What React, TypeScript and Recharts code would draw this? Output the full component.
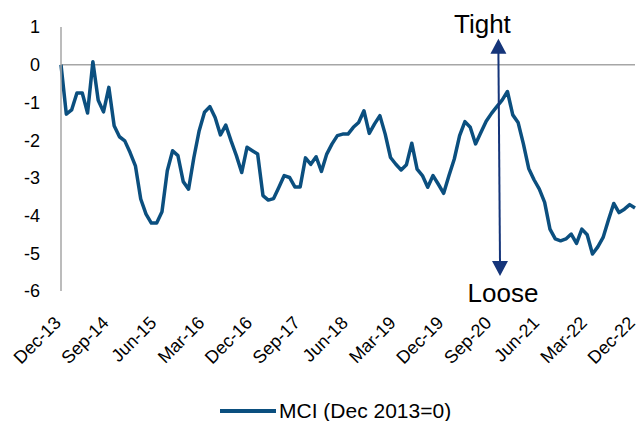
import { LineChart, Line, XAxis, YAxis, ReferenceLine } from "recharts";

// MCI index, monthly from Dec-13 to Dec-22 (Dec 2013 = 0)
const mciValues = [
  0, -1.31, -1.2, -0.75, -0.75, -1.28, 0.08, -0.94, -1.25, -0.6,
  -1.62, -1.91, -2.02, -2.33, -2.68, -3.56, -3.96, -4.2, -4.2, -3.9,
  -2.81, -2.28, -2.41, -3.1, -3.3, -2.46, -1.75, -1.26, -1.11, -1.4,
  -1.86, -1.6, -2.02, -2.41, -2.86, -2.19, -2.28, -2.37, -3.47, -3.59,
  -3.55, -3.25, -2.94, -2.99, -3.24, -3.24, -2.47, -2.64, -2.44, -2.83,
  -2.37, -2.1, -1.88, -1.84, -1.84, -1.66, -1.53, -1.22, -1.82, -1.57,
  -1.35, -1.84, -2.46, -2.64, -2.79, -2.65, -2.08, -2.77, -2.94, -3.25,
  -2.94, -3.17, -3.41, -2.94, -2.5, -1.88, -1.51, -1.66, -2.1, -1.8,
  -1.5, -1.29, -1.11, -0.94, -0.71, -1.33, -1.53, -2.1, -2.75, -3.05,
  -3.3, -3.65, -4.36, -4.62, -4.67, -4.62, -4.49, -4.74, -4.36, -4.51,
  -5.02, -4.83, -4.58, -4.12, -3.68, -3.92, -3.83, -3.71, -3.8,
];

// x-axis labels, one every 9 months
const tickLabels = [
  "Dec-13", "Sep-14", "Jun-15", "Mar-16", "Dec-16", "Sep-17", "Jun-18",
  "Mar-19", "Dec-19", "Sep-20", "Jun-21", "Mar-22", "Dec-22",
];
const tickMonths = tickLabels.map((_, i) => i * 9);
const yTicks = [1, 0, -1, -2, -3, -4, -5, -6];

// tight / loose arrow (month index, value)
const arrowTop = { x: 82.3, y: 0.69 };
const arrowBottom = { x: 82.6, y: -5.6 };

const data = mciValues.map((v, i) => ({ month: i, mci: v }));

const FONT = "'Liberation Sans', Arial, sans-serif";
const LINE_COLOR = "#0B4F7F";
const ARROW_COLOR = "#15357A";

// rotated date label
function DateTick({ x, y, payload }: any) {
  const label = tickLabels[Math.round(payload.value / 9)];
  const px = x + 1;
  const py = y + 33;
  return (
    <text
      x={px}
      y={py}
      textAnchor="end"
      transform={`rotate(-45, ${px}, ${py})`}
      fontSize={18}
      fontFamily={FONT}
      fill="#000"
    >
      {label}
    </text>
  );
}

function TightLooseArrow(props: any) {
  const { x1, y1, x2, y2 } = props;
  return (
    <g>
      <line x1={x1} y1={y1 + 14} x2={x2} y2={y2 - 14} stroke={ARROW_COLOR} strokeWidth={2} />
      <polygon points={`${x1},${y1} ${x1 - 8},${y1 + 15} ${x1 + 8},${y1 + 15}`} fill={ARROW_COLOR} />
      <polygon points={`${x2},${y2} ${x2 - 8},${y2 - 15} ${x2 + 8},${y2 - 15}`} fill={ARROW_COLOR} />
      <text x={x1 - 16} y={y1 - 6} textAnchor="middle" fontSize={26} fontFamily={FONT} fill="#000">
        Tight
      </text>
      <text x={x2 + 3} y={y2 + 26} textAnchor="middle" fontSize={26} fontFamily={FONT} fill="#000">
        Loose
      </text>
    </g>
  );
}

export default function App() {
  return (
    <div style={{ position: "absolute", left: 0, top: 0, width: 637, height: 421, background: "#fff", fontFamily: FONT }}>
      <LineChart width={637} height={421} data={data} margin={{ top: 27, right: 2, bottom: 0, left: 0 }}>
        <XAxis
          dataKey="month"
          type="number"
          domain={[0, 108]}
          ticks={tickMonths}
          interval={0}
          axisLine={false}
          tickLine={false}
          tickSize={0}
          tickMargin={0}
          height={130}
          tick={<DateTick />}
        />
        <YAxis
          type="number"
          domain={[-6, 1]}
          ticks={yTicks}
          interval={0}
          width={61}
          tickLine={false}
          tickSize={0}
          tickMargin={21}
          axisLine={{ stroke: "#A6A6A6", strokeWidth: 1.5 }}
          tick={{ fontSize: 18, fill: "#000", fontFamily: FONT }}
        />
        <ReferenceLine y={0} stroke="#A6A6A6" strokeWidth={1.5} />
        <Line
          type="linear"
          dataKey="mci"
          stroke={LINE_COLOR}
          strokeWidth={3.5}
          strokeLinejoin="round"
          dot={false}
          isAnimationActive={false}
        />
        <ReferenceLine
          segment={[arrowTop, arrowBottom]}
          stroke={ARROW_COLOR}
          shape={<TightLooseArrow />}
        />
      </LineChart>
      <div style={{ position: "absolute", left: 220, top: 409, width: 56, height: 3.5, background: LINE_COLOR }} />
      <div style={{ position: "absolute", left: 279, top: 398.7, fontSize: 21, lineHeight: "24px", color: "#000", whiteSpace: "nowrap" }}>
        MCI (Dec 2013=0)
      </div>
    </div>
  );
}
